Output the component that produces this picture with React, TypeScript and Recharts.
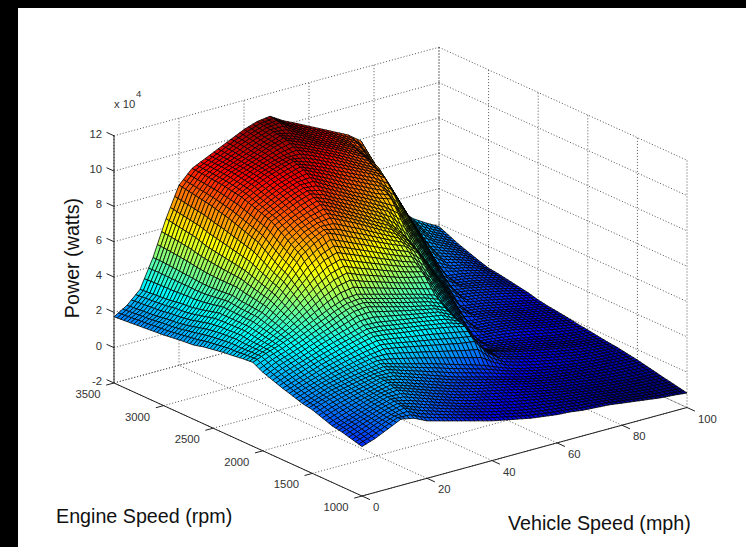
import { ScatterChart, Scatter, XAxis, YAxis } from 'recharts';

const SPEED_STEPS = [0, 4, 8, 12, 16, 20, 24, 28, 32, 36, 40, 44, 48, 52, 56, 60, 64, 68, 72, 76, 80, 84, 88, 92, 96, 100];
const RPM_STEPS = [1000, 1100, 1200, 1300, 1400, 1500, 1600, 1700, 1800, 1900, 2000, 2100, 2200, 2300, 2400, 2500, 2600, 2700, 2800, 2900, 3000, 3100, 3200, 3300, 3400, 3500];

// power in units of 1e4 watts, one row per RPM_STEPS entry, one column per SPEED_STEPS entry
const POWER = [
  [.8, 1.05, 1.4, 1.75, 1.6, 1.25, 1.05, .85, .65, .45, .25, .1, -.05, -.2, -.3, -.4, -.45, -.55, -.6, -.65, -.75, -.85, -.95, -1.05, -1.1, -1.18],
  [.95, 1.2, 1.5, 1.75, 1.92, 1.6, 1.35, 1.12, .9, .7, .5, .32, .15, 0, -.12, -.22, -.32, -.42, -.5, -.58, -.68, -.78, -.88, -.96, -1, -1.06],
  [1.1, 1.35, 1.6, 1.85, 2.05, 1.9, 1.65, 1.4, 1.15, .92, .72, .55, .38, .22, .08, -.05, -.18, -.3, -.4, -.5, -.6, -.7, -.78, -.85, -.9, -.95],
  [1.2, 1.45, 1.7, 1.95, 2.15, 2.22, 1.95, 1.68, 1.42, 1.18, .95, .78, .6, .45, .28, .12, -.03, -.17, -.3, -.4, -.5, -.6, -.68, -.75, -.8, -.83],
  [1.4, 1.65, 1.85, 2.05, 2.22, 2.4, 2.2, 1.95, 1.7, 1.45, 1.2, 1, .82, .65, .48, .3, .12, -.03, -.17, -.28, -.38, -.48, -.56, -.63, -.68, -.71],
  [1.6, 1.85, 2.05, 2.2, 2.35, 2.5, 2.5, 2.25, 2, 1.75, 1.5, 1.25, 1.05, .85, .65, .45, .25, .1, -.05, -.17, -.27, -.36, -.44, -.5, -.55, -.59],
  [1.7, 1.95, 2.2, 2.35, 2.5, 2.62, 2.75, 2.55, 2.35, 2.15, 1.95, 1.72, 1.5, 1.28, 1.05, .75, .48, .28, .12, -.02, -.14, -.25, -.33, -.4, -.45, -.5],
  [1.88, 2.12, 2.35, 2.55, 2.72, 2.88, 3.02, 3.12, 3, 2.85, 2.7, 2.55, 2.4, 2.25, 2.15, 1.3, .78, .55, .36, .2, .05, -.08, -.2, -.29, -.35, -.4],
  [2.05, 2.3, 2.55, 2.8, 3, 3.2, 3.4, 3.58, 3.5, 3.38, 3.28, 3.18, 3.05, 2.92, 2.75, 1.45, .92, .7, .52, .36, .22, .08, -.05, -.17, -.26, -.34],
  [2.25, 2.55, 2.8, 3.05, 3.3, 3.52, 3.72, 3.95, 3.92, 3.8, 3.68, 3.56, 3.44, 3.32, 2.95, 1.8, .82, .68, .55, .42, .28, .14, 0, -.12, -.2, -.26],
  [2.45, 2.8, 3.05, 3.32, 3.62, 3.9, 4.2, 4.48, 4.55, 4.35, 4.15, 3.95, 3.78, 3.62, 3.3, 2.25, 1.2, .7, .62, .5, .38, .24, .1, -.02, -.12, -.17],
  [2.75, 3.05, 3.3, 3.6, 3.95, 4.3, 4.65, 4.92, 5, 4.8, 4.6, 4.4, 4.2, 4, 3.75, 2.8, 1.8, .82, .75, .68, .58, .44, .3, .15, .02, -.1],
  [2.7, 3.05, 3.4, 3.8, 4.3, 4.85, 5.35, 5.75, 5.95, 5.65, 5.4, 5.15, 4.9, 4.7, 4.55, 3.55, 2.5, 1.4, .85, .78, .68, .55, .4, .26, .13, 0],
  [2.62, 3.05, 3.5, 4, 4.65, 5.4, 6.1, 6.6, 6.85, 6.55, 6.25, 5.95, 5.65, 5.35, 5.1, 4.35, 3.2, 2.1, .95, .9, .8, .65, .5, .35, .22, .08],
  [2.55, 3.1, 3.6, 4.2, 5, 5.9, 6.8, 7.3, 7.7, 7.4, 7.05, 6.72, 6.38, 6.05, 5.75, 5.15, 3.95, 2.75, 1.55, .98, .88, .72, .58, .42, .3, .15],
  [2.45, 3.05, 3.6, 4.25, 5.2, 6.2, 7.2, 7.7, 8, 8.1, 7.75, 7.4, 7, 6.6, 6.2, 5.6, 4.5, 3.35, 2.2, 1.1, 1, .88, .72, .56, .4, .25],
  [2.35, 3, 3.6, 4.3, 5.4, 6.6, 7.6, 8.05, 8.35, 8.6, 8.25, 7.85, 7.45, 7.05, 6.65, 6, 5.05, 3.95, 2.85, 1.75, 1.15, 1.05, .9, .75, .58, .4],
  [2.2, 2.9, 3.6, 4.4, 5.6, 7, 8, 8.35, 8.7, 8.95, 8.7, 8.3, 7.95, 7.55, 7.15, 6.75, 6.05, 4.85, 3.65, 2.45, 1.3, 1.2, 1.05, .9, .72, .5],
  [2.15, 2.75, 3.45, 4.35, 5.7, 7.2, 8.2, 8.6, 8.95, 9.2, 9.2, 8.8, 8.4, 8, 7.65, 7.25, 7, 5.7, 4.4, 3.15, 1.85, 1.25, 1.15, 1, .82, .6],
  [2.08, 2.6, 3.3, 4.3, 5.8, 7.4, 8.4, 8.8, 9.15, 9.4, 9.6, 9.25, 8.9, 8.5, 8.15, 7.8, 7.45, 6.75, 5.35, 3.95, 2.55, 1.4, 1.3, 1.15, .95, .7],
  [2, 2.5, 3.2, 4.3, 5.9, 7.6, 8.6, 9, 9.35, 9.6, 9.82, 9.6, 9.3, 8.95, 8.6, 8.25, 7.9, 7.5, 6.1, 4.7, 3.3, 1.9, 1.5, 1.35, 1.1, .77],
  [1.95, 2.45, 3.15, 4.35, 6, 7.75, 8.7, 9.1, 9.45, 9.7, 9.9, 10, 9.7, 9.35, 9, 8.6, 8.2, 7.8, 6.8, 5.4, 4, 2.6, 1.8, 1.55, 1.3, .95],
  [1.9, 2.35, 3.05, 4.4, 6.2, 7.9, 8.8, 9.2, 9.5, 9.8, 10.1, 10.3, 10, 9.65, 9.3, 8.95, 8.55, 8.15, 7.4, 6, 4.6, 3.25, 2.1, 1.8, 1.5, 1.15],
  [1.85, 2.3, 3, 4.45, 6.3, 8, 8.85, 9.25, 9.55, 9.85, 10.15, 10.42, 10.25, 9.9, 9.5, 9.15, 8.8, 8.4, 7.7, 6.4, 5.1, 3.85, 2.6, 2.05, 1.7, 1.35],
  [1.8, 2.25, 2.95, 4.5, 6.4, 8.1, 8.9, 9.28, 9.6, 9.95, 10.25, 10.5, 10.58, 10.1, 9.7, 9.35, 9, 8.6, 8.2, 7.2, 5.85, 4.5, 3.05, 2.35, 1.95, 1.6],
  [1.75, 2.2, 2.9, 4.5, 6.5, 8.2, 8.95, 9.3, 9.65, 10, 10.35, 10.6, 10.7, 10.25, 9.9, 9.53, 9.17, 8.8, 8.44, 7.9, 6.35, 4.5, 3.4, 2.7, 2.25, 1.85],
];

const SPEED_TICKS = [0, 20, 40, 60, 80, 100];
const RPM_TICKS = [1000, 1500, 2000, 2500, 3000, 3500];
const POWER_TICKS = [-2, 0, 2, 4, 6, 8, 10, 12];

const W = 746;
const H = 547;
const Z_BOTTOM = -2;
const Z_TOP = 12;
const S_MAX = 100;
const R_MIN = 1000;
const R_MAX = 3500;
const C_MIN = -1.18;
const C_MAX = 10.7;
// mesh lines drawn per sampled cell; the read values stay on POWER's coarser grid
const MESH = 3;

// orthographic view, the same one the 3D axes box sits in
function project(s: number, r: number, z: number) {
  return {
    x: 362 + 3.25 * s - 0.0992 * (r - R_MIN),
    y: 496 - 0.885 * s - 0.0452 * (r - R_MIN) - 17.66 * (z + 2),
  };
}

function jet(z: number) {
  const t = Math.min(1, Math.max(0, (z - C_MIN) / (C_MAX - C_MIN)));
  const ch = (v: number) => Math.round(255 * Math.min(1, Math.max(0, 1.5 - Math.abs(4 * t - v))));
  return `rgb(${ch(3)},${ch(2)},${ch(1)})`;
}

function seg(a: { x: number; y: number }, b: { x: number; y: number }) {
  return { x: a.x, y: a.y, dx: b.x - a.x, dy: b.y - a.y };
}

function gridSegments() {
  const out = [];
  for (const s of SPEED_TICKS) {
    out.push(seg(project(s, R_MIN, Z_BOTTOM), project(s, R_MAX, Z_BOTTOM)));
    out.push(seg(project(s, R_MAX, Z_BOTTOM), project(s, R_MAX, Z_TOP)));
  }
  for (const r of RPM_TICKS) {
    out.push(seg(project(0, r, Z_BOTTOM), project(S_MAX, r, Z_BOTTOM)));
    out.push(seg(project(S_MAX, r, Z_BOTTOM), project(S_MAX, r, Z_TOP)));
  }
  for (const z of POWER_TICKS) {
    out.push(seg(project(0, R_MAX, z), project(S_MAX, R_MAX, z)));
    out.push(seg(project(S_MAX, R_MAX, z), project(S_MAX, R_MIN, z)));
  }
  return out;
}

function axisSegments() {
  const out = [
    seg(project(0, R_MAX, Z_BOTTOM), project(0, R_MAX, Z_TOP)),
    seg(project(0, R_MAX, Z_BOTTOM), project(0, R_MIN, Z_BOTTOM)),
    seg(project(0, R_MIN, Z_BOTTOM), project(S_MAX, R_MIN, Z_BOTTOM)),
  ];
  for (const z of POWER_TICKS) out.push(seg(project(0, R_MAX, z), project(0, R_MAX + 75, z)));
  for (const r of RPM_TICKS) out.push(seg(project(0, r, Z_BOTTOM), project(-2.4, r, Z_BOTTOM)));
  for (const s of SPEED_TICKS) out.push(seg(project(s, R_MIN, Z_BOTTOM), project(s, R_MIN - 80, Z_BOTTOM)));
  return out;
}

// back to front so nearer cells paint over the ones behind them
function surfaceCells() {
  const cells = [];
  for (let i = RPM_STEPS.length - 2; i >= 0; i--) {
    for (let j = SPEED_STEPS.length - 2; j >= 0; j--) {
      const p0 = project(SPEED_STEPS[j], RPM_STEPS[i], POWER[i][j]);
      cells.push({ x: p0.x, y: p0.y, i, j });
    }
  }
  return cells;
}

function tickLabels() {
  const out = [];
  for (const z of POWER_TICKS) {
    const p = project(0, R_MAX, z);
    out.push({ x: p.x - 12, y: p.y - 2, label: String(z), anchor: 'end' });
  }
  for (const r of RPM_TICKS) {
    const p = project(0, r, Z_BOTTOM);
    out.push({ x: p.x - 26, y: p.y + 11, label: String(r), anchor: 'middle' });
  }
  for (const s of SPEED_TICKS) {
    const p = project(s, R_MIN, Z_BOTTOM);
    out.push({ x: p.x + 11, y: p.y + 11, label: String(s), anchor: 'start' });
  }
  return out;
}

// one sampled cell, painted as a MESH x MESH patch of facets like the dense mesh in the picture
const CellShape = ({ cx, cy, payload }: any) => {
  const { i, j, x, y } = payload;
  const s0 = SPEED_STEPS[j];
  const s1 = SPEED_STEPS[j + 1];
  const r0 = RPM_STEPS[i];
  const r1 = RPM_STEPS[i + 1];
  const height = (a: number, b: number) =>
    (1 - a) * (1 - b) * POWER[i][j] + a * (1 - b) * POWER[i][j + 1] + a * b * POWER[i + 1][j + 1] + (1 - a) * b * POWER[i + 1][j];
  const at = (a: number, b: number) => {
    const p = project(s0 + a * (s1 - s0), r0 + b * (r1 - r0), height(a, b));
    return `${cx + p.x - x},${cy + p.y - y}`;
  };
  const facets = [];
  for (let b = MESH - 1; b >= 0; b--) {
    for (let a = MESH - 1; a >= 0; a--) {
      const a0 = a / MESH;
      const a1 = (a + 1) / MESH;
      const b0 = b / MESH;
      const b1 = (b + 1) / MESH;
      facets.push(
        <polygon
          key={`${a}-${b}`}
          points={[at(a0, b0), at(a1, b0), at(a1, b1), at(a0, b1)].join(' ')}
          fill={jet(height((a0 + a1) / 2, (b0 + b1) / 2))}
        />,
      );
    }
  }
  return (
    <g stroke="#000" strokeWidth={0.8} strokeLinejoin="round">
      {facets}
    </g>
  );
};

const DottedShape = ({ cx, cy, payload }: any) => (
  <line x1={cx} y1={cy} x2={cx + payload.dx} y2={cy + payload.dy} stroke="#555" strokeWidth={1} strokeDasharray="1 2" />
);

const AxisShape = ({ cx, cy, payload }: any) => (
  <line x1={cx} y1={cy} x2={cx + payload.dx} y2={cy + payload.dy} stroke="#222" strokeWidth={1} />
);

const TickShape = ({ cx, cy, payload }: any) => (
  <text x={cx} y={cy} textAnchor={payload.anchor} dominantBaseline="central" fontSize={11.3} fontFamily="Liberation Sans" fill="#333">
    {payload.label}
  </text>
);

const labelStyle = { position: 'absolute' as const, fontFamily: 'Liberation Sans', fontSize: 19.7, color: '#111', whiteSpace: 'nowrap' as const, lineHeight: 1 };

export default function App() {
  return (
    <div style={{ position: 'absolute', left: 0, top: 0, width: W, height: H, background: '#fff', overflow: 'hidden' }}>
      <ScatterChart width={W} height={H} margin={{ top: 0, right: 0, bottom: 0, left: 0 }}>
        <XAxis type="number" dataKey="x" domain={[0, W]} hide />
        <YAxis type="number" dataKey="y" domain={[0, H]} reversed hide />
        <Scatter data={gridSegments()} shape={DottedShape} isAnimationActive={false} />
        <Scatter data={surfaceCells()} shape={CellShape} isAnimationActive={false} />
        <Scatter data={axisSegments()} shape={AxisShape} isAnimationActive={false} />
        <Scatter data={tickLabels()} shape={TickShape} isAnimationActive={false} />
      </ScatterChart>
      <div style={{ position: 'absolute', left: 0, top: 0, width: W, height: 8, background: '#000' }} />
      <div style={{ position: 'absolute', left: 0, top: 0, width: 18, height: H, background: '#000' }} />
      <div style={{ ...labelStyle, left: 56, top: 507 }}>Engine Speed (rpm)</div>
      <div style={{ ...labelStyle, left: 508, top: 514 }}>Vehicle Speed (mph)</div>
      <div style={{ ...labelStyle, left: 73, top: 258, transform: 'translate(-50%, -50%) rotate(-90deg)' }}>Power (watts)</div>
      <div style={{ position: 'absolute', left: 114, top: 99, fontFamily: 'Liberation Sans', fontSize: 11.3, color: '#333', lineHeight: 1 }}>x 10</div>
      <div style={{ position: 'absolute', left: 136, top: 89, fontFamily: 'Liberation Sans', fontSize: 9.5, color: '#333', lineHeight: 1 }}>4</div>
    </div>
  );
}
